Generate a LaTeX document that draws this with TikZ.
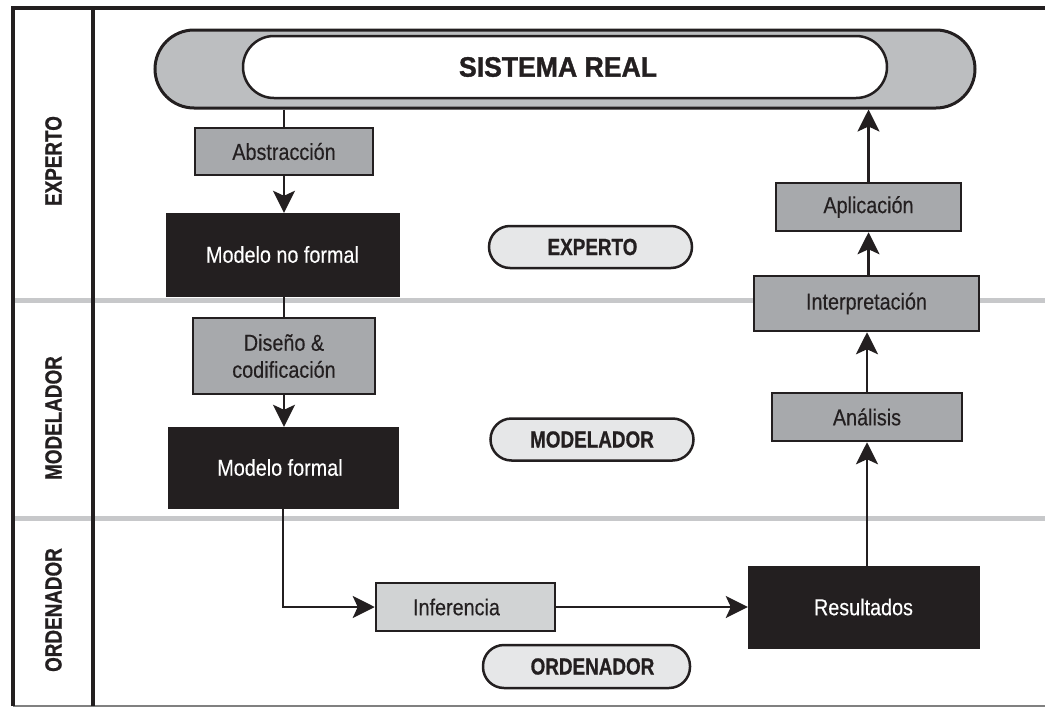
\documentclass[tikz,border=0pt]{standalone}
\usepackage{fontspec}
\setmainfont{Liberation Sans}
\newfontfamily\condfont[FakeStretch=0.86,FakeBold=0.3]{Liberation Sans}
\newfontfamily\condbold[FakeStretch=0.81,FakeBold=0.8]{Liberation Sans Bold}
\newfontfamily\titlebold[FakeStretch=0.95,FakeBold=1.2]{Liberation Sans Bold}
\usetikzlibrary{arrows.meta}
\definecolor{boxgray}{HTML}{A7A9AC}
\definecolor{sysgray}{HTML}{BCBEC0}
\definecolor{infgray}{HTML}{D1D3D4}
\definecolor{pillgray}{HTML}{E6E7E8}
\definecolor{linegray}{HTML}{C7C8CA}
\definecolor{darkbox}{HTML}{231F20}
\tikzset{
  grayproc/.style={draw=darkbox, line width=2.5pt, fill=boxgray, inner sep=0pt,
    font=\condfont\fontsize{23}{27}\selectfont, text=darkbox, align=center},
  blackproc/.style={draw=darkbox, fill=darkbox, inner sep=0pt,
    font=\condfont\fontsize{23}{27}\selectfont, text=white},
  pill/.style={draw=darkbox, line width=2.5pt, fill=pillgray, rounded corners=21pt,
    minimum width=203pt, minimum height=42pt, inner sep=0pt,
    font=\condbold\fontsize{23.3}{25}\selectfont, text=darkbox},
  lanelabel/.style={rotate=90, font=\condbold\fontsize{23.3}{25}\selectfont, text=darkbox},
  conn/.style={draw=darkbox, line width=2.5pt},
  arr/.style={conn, -{Stealth[length=22pt,width=22pt,inset=5pt]}}
}
\begin{document}
\begin{tikzpicture}[x=1pt,y=-1pt]
\useasboundingbox (0,0) rectangle (1045,707);
% lane separators
\draw[linegray, line width=5pt] (13,300) -- (1045,300);
\draw[linegray, line width=5pt] (13,518) -- (1045,518);
\draw[gray, line width=2pt] (13,706) -- (1045,706);
% frame
\draw[darkbox, line width=4pt] (13,706) -- (13,8) -- (1045,8);
\draw[darkbox, line width=4pt] (93,8) -- (93,706);
% lane labels
\node[lanelabel] (lexp) at (53.5,161) {EXPERTO};
\node[lanelabel] (lmod) at (53.5,418) {MODELADOR};
\node[lanelabel] (lord) at (53.5,610) {ORDENADOR};
% sistema real
\node[draw=darkbox, line width=3pt, fill=sysgray, rounded corners=39pt,
  minimum width=820pt, minimum height=78pt, inner sep=0pt] (sistema) at (565,69) {};
\node[draw=darkbox, line width=2.5pt, fill=white, rounded corners=31pt,
  minimum width=644pt, minimum height=62pt, inner sep=0pt,
  font=\titlebold\fontsize{28}{30}\selectfont, text=darkbox] (sisin) at (565,67) {\hspace*{-14pt}SISTEMA REAL};
% left column
\node[grayproc, minimum width=178pt, minimum height=47pt] (abst) at (284,151.5) {Abstracción};
\node[blackproc, minimum width=233pt, minimum height=83pt] (mnf) at (282.5,254.5) {Modelo no formal};
\node[grayproc, minimum width=182pt, minimum height=76pt] (dis) at (284,356) {Diseño \&\\codificación};
\node[blackproc, minimum width=230pt, minimum height=81pt] (mf) at (283,467.5) {\hspace*{-6pt}Modelo formal};
% bottom row
\node[grayproc, fill=infgray, minimum width=179pt, minimum height=48pt] (inf) at (465.5,607) {\hspace*{-18pt}Inferencia};
\node[blackproc, minimum width=231pt, minimum height=82pt] (res) at (863.5,607) {Resultados};
% right column
\node[grayproc, minimum width=190pt, minimum height=48pt] (ana) at (867,417) {Análisis};
\node[grayproc, minimum width=225pt, minimum height=55pt] (interp) at (866.5,303.5) {Interpretación};
\node[grayproc, minimum width=185pt, minimum height=48pt] (apl) at (868.5,207) {Aplicación};
% pills
\node[pill] (pexp) at (590.5,247) {\hspace*{4pt}EXPERTO};
\node[pill] (pmod) at (592,439.5) {MODELADOR};
\node[pill, minimum width=207pt, minimum height=43pt] (pord) at (586.5,666.5) {\hspace*{12pt}ORDENADOR};
% connectors
\draw[conn] (sistema.south -| abst.north) -- (abst.north);
\draw[arr] (abst.south) -- (abst.south |- mnf.north);
\draw[conn] (mnf.south -| dis.north) -- (dis.north);
\draw[arr] (dis.south) -- (dis.south |- mf.north);
\draw[arr] (mf.south) |- (inf.west);
\draw[arr] (inf.east) -- (res.west);
\draw[arr] (res.north -| ana.south) -- (ana.south);
\draw[arr] (ana.north) -- (ana.north |- interp.south);
\draw[arr] (interp.north -| apl.south) -- (apl.south);
\draw[arr] (apl.north) -- (apl.north |- sistema.south);
\end{tikzpicture}
\end{document}
